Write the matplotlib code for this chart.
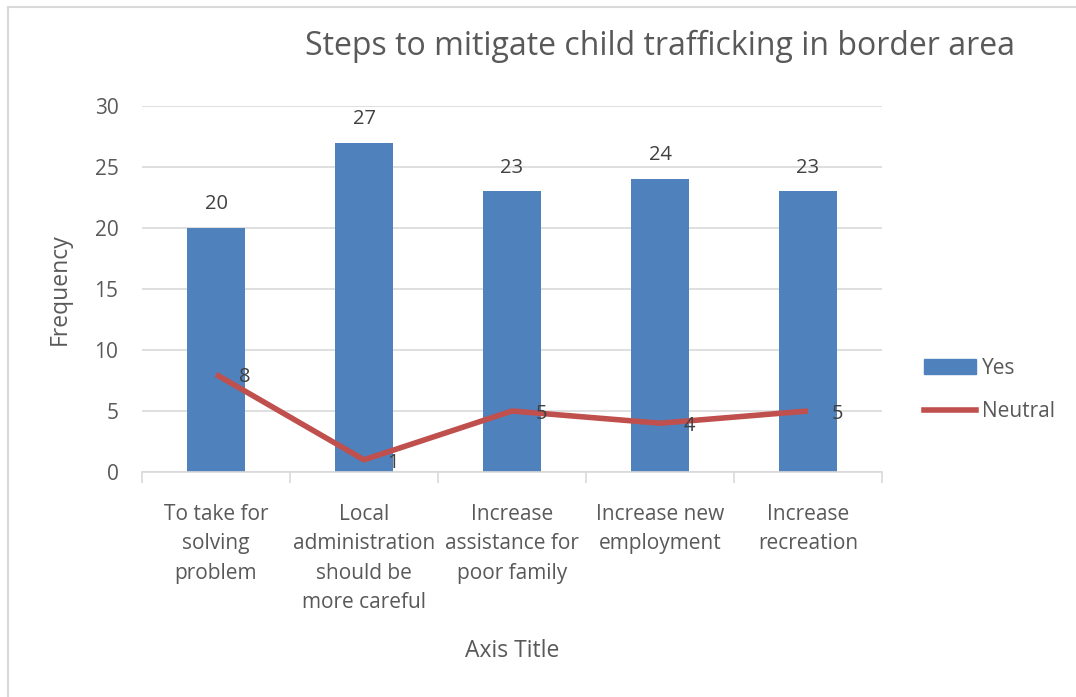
import matplotlib
matplotlib.use("Agg")
import matplotlib.pyplot as plt
from matplotlib.lines import Line2D

categories = ["To take for\nsolving\nproblem",
              "Local\nadministration\nshould be\nmore careful",
              "Increase\nassistance for\npoor family",
              "Increase new\nemployment",
              "Increase\nrecreation"]
yes_values = [20, 27, 23, 24, 23]
neutral_values = [8, 1, 5, 4, 5]
y_ticks = [0, 5, 10, 15, 20, 25, 30]

plt.rcParams['font.family'] = ['Open Sans', 'DejaVu Sans']
text_color = "#595959"
grid_color = "#d9d9d9"
bar_color = "#4f81bd"
line_color = "#c0504d"

fig = plt.figure(figsize=(10.76, 6.97), dpi=100)
ax = fig.add_axes([142 / 1076, 1 - 472 / 697, 740 / 1076, 366 / 697])

x = list(range(len(categories)))
ax.bar(x, yes_values, width=0.39, color=bar_color, zorder=2, label="Yes")
ax.plot(x, neutral_values, color=line_color, linewidth=4, zorder=3,
        solid_capstyle="butt", label="Neutral")

for xi, v in zip(x, yes_values):
    ax.annotate(str(v), (xi, v), xytext=(0, 10), textcoords="offset points",
                ha="center", va="bottom", fontsize=14.5, color="#404040")
for xi, v in zip(x, neutral_values):
    ax.annotate(str(v), (xi, v), xytext=(21, -2), textcoords="offset points",
                ha="center", va="center", fontsize=14.5, color="#404040")

ax.set_xlim(-0.5, len(categories) - 0.5)
ax.set_ylim(0, 30)
ax.set_yticks(y_ticks)
ax.yaxis.grid(True, color=grid_color, linewidth=1.2, zorder=0)
ax.set_axisbelow(True)
for side in ["top", "right", "left"]:
    ax.spines[side].set_visible(False)
ax.spines["bottom"].set_color(grid_color)
ax.spines["bottom"].set_linewidth(1.2)

ax.tick_params(axis="y", length=0, pad=17, labelsize=15, labelcolor=text_color)
ax.set_xticks([i - 0.5 for i in range(len(categories) + 1)], minor=False)
ax.set_xticklabels([])
ax.tick_params(axis="x", which="major", length=8, color=grid_color, width=1.2)
ax.set_xticks(x, minor=True)
ax.set_xticklabels(categories, minor=True)
ax.tick_params(axis="x", which="minor", length=0, pad=23, labelsize=15,
               labelcolor=text_color)
for lbl in ax.get_xticklabels(minor=True):
    lbl.set_va("top")
    lbl.set_linespacing(1.53)

fig.text(60 / 1076, 1 - 289 / 697, "Frequency", rotation=90, ha="center",
         va="center", fontsize=16.5, color=text_color)
fig.text(512 / 1076, 1 - 651 / 697, "Axis Title", ha="center", va="center",
         fontsize=16.5, color=text_color)
fig.text(660 / 1076, 1 - 46 / 697, "Steps to mitigate child trafficking in border area",
         ha="center", va="center", fontsize=23, color=text_color)

handles = [plt.Rectangle((0, 0), 1, 1, color=bar_color),
           Line2D([0], [0], color=line_color, linewidth=4)]
fig.legend(handles, ["Yes", "Neutral"], loc="center left",
           bbox_to_anchor=(905 / 1076, 1 - 390 / 697), frameon=False,
           fontsize=15, labelcolor=text_color, handlelength=2.5,
           labelspacing=1.1, handletextpad=0.3)

# light frame along the top and left edges
fig.add_artist(Line2D([8 / 1076, 8 / 1076], [0, 1 - 7 / 697],
                      transform=fig.transFigure, color=grid_color, linewidth=1.5))
fig.add_artist(Line2D([8 / 1076, 1], [1 - 7 / 697, 1 - 7 / 697],
                      transform=fig.transFigure, color=grid_color, linewidth=1.5))

fig.savefig("out.png", dpi=100)
